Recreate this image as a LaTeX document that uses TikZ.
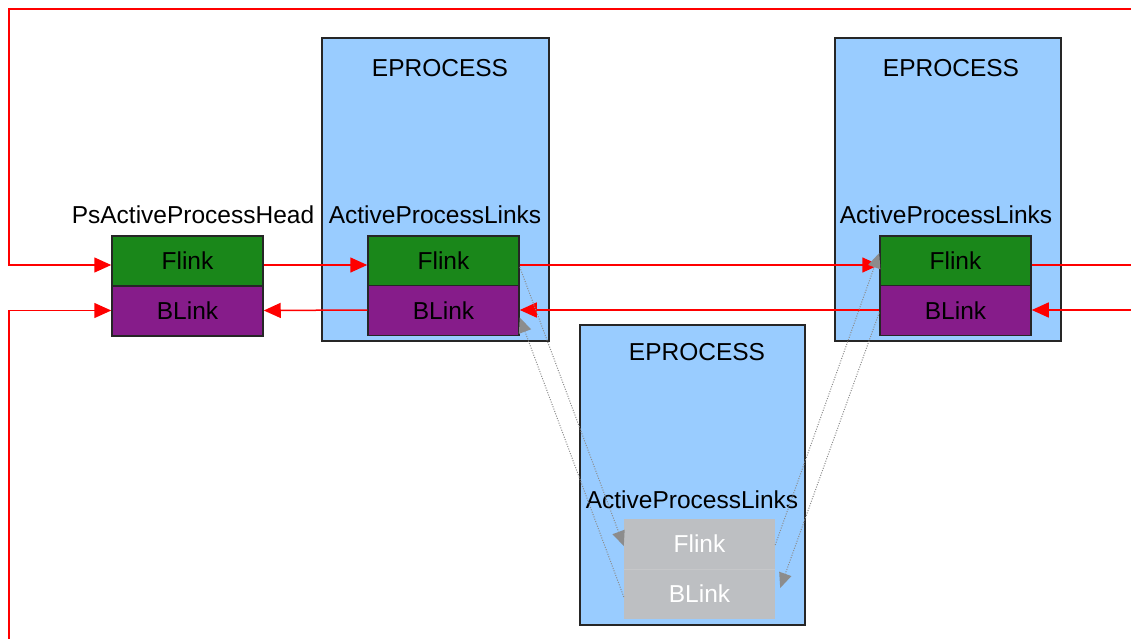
\documentclass[tikz,border=0pt]{standalone}
\usepackage{fontspec}
\setmainfont{Liberation Sans}
\usetikzlibrary{arrows.meta,calc}
\definecolor{epblue}{HTML}{99CCFF}
\definecolor{flgreen}{HTML}{1A871A}
\definecolor{blpurple}{HTML}{861C8A}
\definecolor{lkgray}{HTML}{BDBFC2}
\definecolor{lkred}{HTML}{FF0000}
\definecolor{dotgray}{HTML}{8C8C8C}
\tikzset{
  every node/.style={font=\fontsize{24.5}{28}\selectfont},
  eproc/.style={draw=black!85, line width=1.5pt, fill=epblue, inner sep=0pt},
  fbox/.style={draw=black!85, line width=1.5pt, fill=flgreen, minimum width=151pt, minimum height=50pt, inner sep=0pt},
  bbox/.style={draw=black!85, line width=1.5pt, fill=blpurple, minimum width=151pt, minimum height=50pt, inner sep=0pt},
  gbox/.style={fill=lkgray, text=white, minimum width=151pt, minimum height=50pt, inner sep=0pt},
  lbl/.style={inner sep=0pt, anchor=center},
  redarr/.style={draw=lkred, line width=1.5pt, -{Triangle[length=17pt,width=15pt]}},
  redln/.style={draw=lkred, line width=1.5pt},
  dotarr/.style={draw=dotgray, line width=1pt, dash pattern=on 1pt off 1.5pt, -{Triangle[length=15pt,width=13pt,line width=0pt]}}
}
\begin{document}
\begin{tikzpicture}[x=1pt,y=-1pt]
\useasboundingbox (0,0) rectangle (1131,639);
\fill[white] (0,0) rectangle (1131,639);

% EPROCESS containers
\node[eproc, minimum width=227pt, minimum height=303pt] (ep1) at (435.5,189.5) {};
\node[eproc, minimum width=226pt, minimum height=303pt] (ep3) at (948,189.5) {};
\node[eproc, minimum width=225pt, minimum height=300pt] (ep2) at (692.5,475) {};

\node[lbl] (t1) at (440,68) {EPROCESS};
\node[lbl] (t3) at (951,68) {EPROCESS};
\node[lbl] (t2) at (697,352) {EPROCESS};

\node[lbl] (a1) at (435,215) {ActiveProcessLinks};
\node[lbl] (a3) at (946,215) {ActiveProcessLinks};
\node[lbl] (a2) at (692,500) {ActiveProcessLinks};
\node[lbl] (hd) at (193,215) {PsActiveProcessHead};

% list entries
\node[fbox] (hf) at (187.5,261) {Flink};
\node[bbox] (hb) at (187.5,311) {BLink};
\node[fbox] (f1) at (443.5,261) {Flink};
\node[bbox] (b1) at (443.5,310.5) {BLink};
\node[fbox] (f3) at (955.5,261) {Flink};
\node[bbox] (b3) at (955.5,310.5) {BLink};
\node[gbox] (f2) at (699.5,544) {Flink};
\node[gbox] (b2) at (699.5,594) {BLink};
\draw[lkgray!85!black!60!white, line width=0.6pt] (f2.south west) -- (f2.south east);

% free ends at the picture border
\coordinate (topR) at (1131,9);
\coordinate (topL) at (9,9);
\coordinate (botL) at (9,639);
\coordinate (rF) at (1131,265);
\coordinate (rB) at (1131,310);

% forward links
\draw[redarr] (topR) -- (topL) |- ([yshift=-4pt]hf.west);
\draw[redarr] ([yshift=-4pt]hf.east) -- ([yshift=-4pt]f1.west);
\draw[redarr] ([yshift=-4pt]f1.east) -- ([yshift=-4pt]f3.west);
\draw[redln] ([yshift=-4pt]f3.east) -- (rF);

% backward links
\draw[redarr] (botL) |- ([yshift=0.5pt]hb.west);
\draw[redarr] ([yshift=0.5pt]b1.west) -- ([yshift=0.5pt]hb.east);
\draw[redarr] ([yshift=0.5pt]b3.west) -- ([yshift=0.5pt]b1.east);
\draw[redarr] (rB) -- ([yshift=0.5pt]b3.east);

% links of the unlinked entry
\draw[dotarr] ([yshift=-6pt]f1.east) -- ([yshift=-2pt]f2.west);
\draw[dotarr] ([yshift=-3pt]b2.west) -- ([yshift=-7pt]b1.east);
\draw[dotarr] ([yshift=-1pt]f2.east) -- ([yshift=8pt]f3.west);
\draw[dotarr] ([yshift=-2pt]b3.west) -- ([xshift=5pt,yshift=6pt]b2.east);
\end{tikzpicture}
\end{document}
